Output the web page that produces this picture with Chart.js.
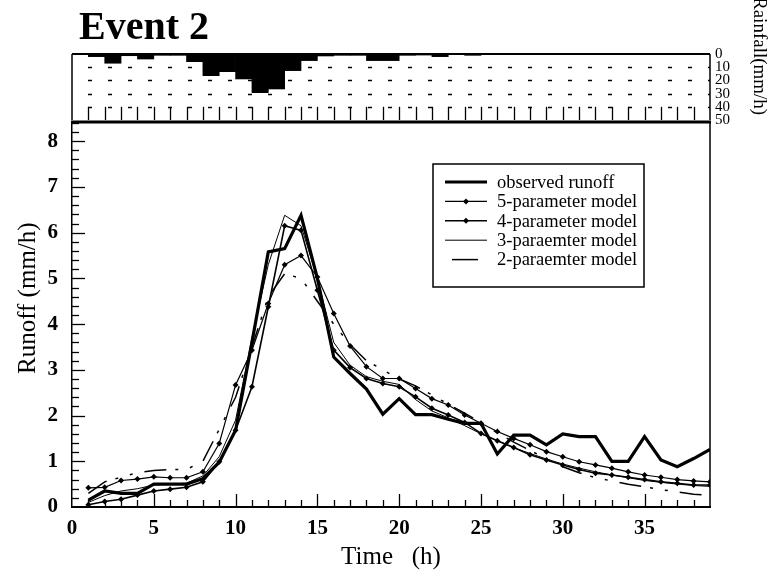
<!DOCTYPE html>
<html>
<head>
<meta charset="utf-8">
<title>Event 2</title>
<script src="https://cdn.jsdelivr.net/npm/chart.js@4.4.1/dist/chart.umd.min.js"></script>
<style>
  body { margin: 0; background: #fff; }
  #wrap { position: relative; width: 773px; height: 576px; overflow: hidden; font-family: "Liberation Serif", "DejaVu Serif", serif; color: #000; }
  #wrap canvas { position: absolute; left: 0; top: 0; }
  .event { position: absolute; left: 79px; top: 2px; font-size: 40px; font-weight: bold; }
  .rain-title { position: absolute; left: 748px; top: -3px; font-size: 19px; line-height: 24px; writing-mode: vertical-rl; white-space: nowrap; }
  .runoff-title { position: absolute; left: 14px; top: 220px; height: 157px; font-size: 25px; line-height: 26px; writing-mode: vertical-rl; transform: rotate(180deg); white-space: nowrap; text-align: center; }
</style>
</head>
<body>
<div id="wrap">
  <canvas id="rainChart" width="773" height="576"></canvas>
  <canvas id="runoffChart" width="773" height="576"></canvas>
  <div class="event">Event 2</div>
  <div class="rain-title">Rainfall(mm/h)</div>
  <div class="runoff-title">Runoff (mm/h)</div>
</div>
<script>
// time axis (h)
const hours = [1,2,3,4,5,6,7,8,9,10,11,12,13,14,15,16,17,18,19,20,21,22,23,24,25,26,27,28,29,30,31,32,33,34,35,36,37,38,39]

// runoff (mm/h)
const observed = [0.15,0.35,0.30,0.30,0.50,0.50,0.50,0.62,0.98,1.68,3.60,5.58,5.65,6.38,5.00,3.28,2.92,2.58,2.03,2.37,2.02,2.02,1.92,1.83,1.83,1.16,1.57,1.57,1.36,1.60,1.54,1.54,1.00,1.00,1.54,1.03,0.88,1.06,1.26]
const model5 = [0.42,0.43,0.58,0.61,0.66,0.64,0.64,0.77,1.39,2.67,3.43,4.45,5.30,5.50,5.03,4.23,3.52,3.07,2.81,2.81,2.59,2.37,2.23,2.01,1.83,1.65,1.50,1.36,1.21,1.10,0.99,0.92,0.85,0.77,0.70,0.65,0.60,0.57,0.55]
const model4 = [0.05,0.12,0.17,0.26,0.35,0.39,0.43,0.55,0.99,1.68,2.63,4.38,6.15,6.05,4.74,3.43,3.05,2.81,2.70,2.63,2.41,2.16,2.01,1.85,1.61,1.45,1.30,1.14,1.03,0.92,0.82,0.74,0.70,0.65,0.60,0.55,0.52,0.48,0.48]
const model3 = [0.10,0.25,0.35,0.40,0.48,0.50,0.52,0.68,1.10,1.90,3.70,5.30,6.38,6.15,5.00,3.60,3.10,2.85,2.75,2.68,2.35,2.10,1.95,1.78,1.60,1.45,1.30,1.17,1.05,0.94,0.85,0.77,0.70,0.64,0.58,0.54,0.50,0.47,0.45]
const model2 = [0.30,0.55,0.65,0.75,0.80,0.82,0.82,1.00,1.70,2.40,3.50,4.60,5.10,5.00,4.50,4.00,3.55,3.20,3.00,2.80,2.65,2.45,2.25,2.05,1.85,1.62,1.42,1.24,1.05,0.88,0.75,0.64,0.57,0.50,0.44,0.38,0.33,0.28,0.25]

// rainfall (mm/h), one bar per hour starting at rainStart
const rainStart = [0,1,2,3,4,5,6,7,8,9,10,11,12,13,14,15,16,17,18,19,20,21,22,23,24,25]
const rainfall = [0,2,7,1.3,3.8,1,1,5.8,16.4,13.4,18.9,29.3,26.5,12.6,5,1.5,1,1,5,5,1,0.8,2,0.5,1,0]

// tick labels
const timeTicks = [0,5,10,15,20,25,30,35]
const runoffTicks = [0,1,2,3,4,5,6,7,8]
const rainTicks = [0,10,20,30,40,50]

const FONT = '"Liberation Serif", "DejaVu Serif", serif'
const pts = vals => hours.map((h, i) => ({x: h, y: vals[i]}))

// rainfall panel: frame, dotted grid and hour ticks
const rainFrame = {
  id: 'rainFrame',
  afterDatasetsDraw(chart) {
    const {ctx, chartArea: a, scales: {x, y}} = chart
    ctx.save()
    ctx.strokeStyle = '#000'
    ctx.lineWidth = 1.3
    ctx.setLineDash([4, 16])
    ctx.lineDashOffset = 4
    ;[10, 20, 30, 40].forEach(v => {
      const py = Math.round(y.getPixelForValue(v)) + 0.5
      ctx.beginPath(); ctx.moveTo(a.left, py); ctx.lineTo(a.right, py); ctx.stroke()
    })
    ctx.setLineDash([])
    ctx.lineWidth = 1.3
    for (let h = 1; h < 39; h++) {
      const px = Math.round(x.getPixelForValue(h)) + 0.5
      ctx.beginPath(); ctx.moveTo(px, a.bottom); ctx.lineTo(px, y.getPixelForValue(40)); ctx.stroke()
    }
    ctx.lineWidth = 2
    ctx.beginPath(); ctx.moveTo(a.left, a.top); ctx.lineTo(a.right, a.top); ctx.stroke()
    ctx.lineWidth = 1.5
    ctx.beginPath(); ctx.moveTo(a.left, a.top); ctx.lineTo(a.left, a.bottom); ctx.stroke()
    ctx.beginPath(); ctx.moveTo(a.right, a.top); ctx.lineTo(a.right, a.bottom); ctx.stroke()
    ctx.restore()
  }
}

// runoff panel: frame, inward ticks, legend
const legendItems = [
  {text: 'observed runoff', width: 3.2},
  {text: '5-parameter model', width: 1.2, marker: true},
  {text: '4-parameter model', width: 1.6, marker: true},
  {text: '3-paraemter model', width: 1},
  {text: '2-paraemter model', width: 1.5, short: true}
]

const runoffFrame = {
  id: 'runoffFrame',
  afterDraw(chart) {
    const {ctx, chartArea: a, scales: {x, y}} = chart
    ctx.save()
    ctx.strokeStyle = '#000'
    ctx.lineWidth = 1.3
    for (let h = 1; h < 39; h++) {
      const px = Math.round(x.getPixelForValue(h)) + 0.5
      const len = h % 5 === 0 ? 13 : 7
      ctx.beginPath(); ctx.moveTo(px, a.bottom); ctx.lineTo(px, a.bottom - len); ctx.stroke()
    }
    for (let k = 1; k <= 42; k++) {
      const py = Math.round(y.getPixelForValue(k / 5)) + 0.5
      const len = k % 5 === 0 ? 13 : 7
      ctx.beginPath(); ctx.moveTo(a.left, py); ctx.lineTo(a.left + len, py); ctx.stroke()
    }
    ctx.lineWidth = 3
    ctx.beginPath(); ctx.moveTo(a.left - 1, a.top); ctx.lineTo(a.right + 1, a.top); ctx.stroke()
    ctx.lineWidth = 1.5
    ctx.beginPath(); ctx.moveTo(a.right, a.top); ctx.lineTo(a.right, a.bottom); ctx.stroke()

    // legend box
    const bx = a.left + 361, by = a.top + 42, bw = 211, bh = 123
    ctx.lineWidth = 1.5
    ctx.fillStyle = '#fff'
    ctx.fillRect(bx, by, bw, bh)
    ctx.strokeRect(bx, by, bw, bh)
    ctx.font = '18.5px ' + FONT
    ctx.fillStyle = '#000'
    ctx.textBaseline = 'middle'
    legendItems.forEach((it, i) => {
      const ly = by + 18 + i * 19.4
      ctx.lineWidth = it.width
      ctx.beginPath()
      if (it.short) { ctx.moveTo(bx + 19, ly); ctx.lineTo(bx + 45, ly) }
      else { ctx.moveTo(bx + 12, ly); ctx.lineTo(bx + 54, ly) }
      ctx.stroke()
      if (it.marker) {
        ctx.beginPath()
        ctx.moveTo(bx + 33, ly - 3); ctx.lineTo(bx + 36, ly); ctx.lineTo(bx + 33, ly + 3); ctx.lineTo(bx + 30, ly)
        ctx.closePath(); ctx.fill()
      }
      ctx.fillText(it.text, bx + 64, ly + 1)
    })
    ctx.restore()
  }
}

const rainChart = new Chart(document.getElementById('rainChart'), {
  type: 'bar',
  data: {
    datasets: [{
      data: rainStart.map((h, i) => ({x: h + 0.5, y: rainfall[i]})),
      backgroundColor: '#000',
      borderWidth: 0,
      barPercentage: 1,
      categoryPercentage: 1
    }]
  },
  options: {
    responsive: false,
    animation: false,
    layout: {padding: {top: 54, bottom: 456, left: 72, right: 0}},
    plugins: {legend: {display: false}, tooltip: {enabled: false}},
    scales: {
      x: {type: 'linear', min: 0, max: 39, offset: false, display: false},
      y: {
        position: 'right', reverse: true, min: 0, max: 50,
        grid: {display: false, drawTicks: false},
        border: {display: false},
        ticks: {padding: 5, autoSkip: false, color: '#000', font: {family: FONT, size: 15, lineHeight: 1}},
        afterBuildTicks: s => { s.ticks = rainTicks.map(v => ({value: v})) },
        afterFit: s => { s.width = 63 }
      }
    }
  },
  plugins: [rainFrame]
})

const runoffChart = new Chart(document.getElementById('runoffChart'), {
  type: 'line',
  data: {
    datasets: [
      {label: 'observed runoff', data: pts(observed), borderColor: '#000', borderWidth: 3.2, pointRadius: 0},
      {label: '5-parameter model', data: pts(model5), borderColor: '#000', borderWidth: 1.2, pointRadius: 3, pointStyle: 'rectRot', pointBackgroundColor: '#000', pointBorderWidth: 0},
      {label: '4-parameter model', data: pts(model4), borderColor: '#000', borderWidth: 1.6, pointRadius: 3, pointStyle: 'rectRot', pointBackgroundColor: '#000', pointBorderWidth: 0},
      {label: '3-paraemter model', data: pts(model3), borderColor: '#000', borderWidth: 1, pointRadius: 0},
      {label: '2-paraemter model', data: pts(model2), borderColor: '#000', borderWidth: 1.5, pointRadius: 0, borderDash: [22, 9, 3, 12, 3, 12]}
    ]
  },
  options: {
    responsive: false,
    animation: false,
    layout: {padding: {top: 122, right: 63, left: 0, bottom: 0}},
    plugins: {legend: {display: false}, tooltip: {enabled: false}},
    elements: {line: {tension: 0}},
    scales: {
      x: {
        type: 'linear', min: 0, max: 39,
        grid: {display: false, drawTicks: false},
        border: {color: '#000', width: 2},
        ticks: {padding: 9, color: '#000', font: {family: FONT, size: 21, weight: 'bold'}},
        afterBuildTicks: s => { s.ticks = timeTicks.map(v => ({value: v})) },
        afterFit: s => { s.height = 69 },
        title: {display: true, text: 'Time   (h)', color: '#000', font: {family: FONT, size: 25}, padding: {top: 1}}
      },
      y: {
        min: 0, max: 8.42,
        grid: {display: false, drawTicks: false},
        border: {color: '#000', width: 1.5},
        ticks: {padding: 14, color: '#000', font: {family: FONT, size: 21, weight: 'bold'}},
        afterBuildTicks: s => { s.ticks = runoffTicks.map(v => ({value: v})) },
        afterFit: s => { s.width = 72 }
      }
    }
  },
  plugins: [runoffFrame]
})
</script>
</body>
</html>
